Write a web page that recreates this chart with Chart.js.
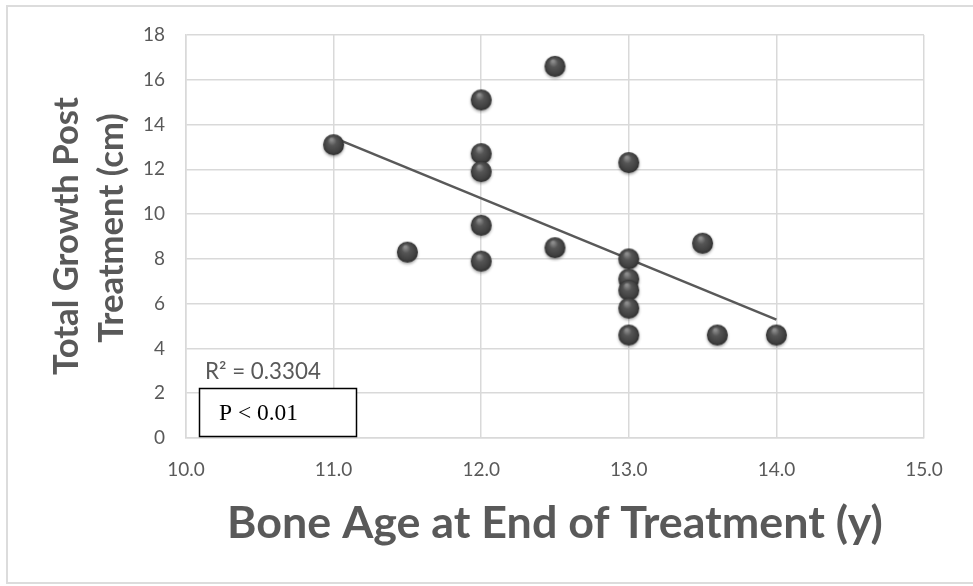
<!DOCTYPE html>
<html>
<head>
<meta charset="utf-8">
<script src="https://cdn.jsdelivr.net/npm/chart.js@4.4.1/dist/chart.umd.min.js"></script>
<style>
  html, body { margin: 0; padding: 0; background: #ffffff; }
</style>
</head>
<body>
<canvas id="chart" width="973" height="586"></canvas>
<script>
// bone age (y) vs total growth after treatment (cm)
const boneAge = [11.0, 11.5, 12.0, 12.0, 12.0, 12.0, 12.0, 12.5, 12.5, 13.0, 13.0, 13.0, 13.0, 13.0, 13.0, 13.5, 13.6, 14.0];
const growth  = [13.1, 8.3, 15.1, 12.7, 11.9, 9.5, 7.9, 16.6, 8.5, 12.3, 8.0, 7.1, 6.6, 5.8, 4.6, 8.7, 4.6, 4.6];

// linear trendline ends
const trendX = [11.0, 14.0];
const trendY = [13.42, 5.29];

const xTicks = [10, 11, 12, 13, 14, 15];
const yTicks = [0, 2, 4, 6, 8, 10, 12, 14, 16, 18];

const xTitle = 'Bone Age at End of Treatment (y)';
const yTitle = ['Total Growth Post', 'Treatment (cm)'];
const rSquaredText = 'R² = 0.3304';
const pValueText = 'P < 0.01';

const GREY = '#595959';
const GRID = '#d9d9d9';
const SANS = 'Lato, "Open Sans", sans-serif';

// shaded ball marker
function makeBall(r) {
  const size = Math.ceil(r * 2 + 8);
  const cv = document.createElement('canvas');
  cv.width = size; cv.height = size;
  const g = cv.getContext('2d');
  const c = size / 2;
  g.shadowColor = 'rgba(0,0,0,0.35)';
  g.shadowBlur = 3;
  g.shadowOffsetY = 1.5;
  const grad = g.createRadialGradient(c - r * 0.2, c - r * 0.5, r * 0.1, c, c, r);
  grad.addColorStop(0, '#8c8c8c');
  grad.addColorStop(0.35, '#555555');
  grad.addColorStop(0.8, '#404040');
  grad.addColorStop(1, '#2f2f2f');
  g.fillStyle = grad;
  g.beginPath();
  g.arc(c, c, r, 0, Math.PI * 2);
  g.fill();
  return cv;
}
const ball = makeBall(10.5);

// font size that makes text span the given width
function fitFont(ctx, text, weight, family, width) {
  ctx.font = `${weight} 40px ${family}`;
  return 40 * width / ctx.measureText(text).width;
}

// outer frame, axis titles and the stats annotations
const decorations = {
  id: 'decorations',
  beforeDraw(chart) {
    const ctx = chart.ctx;
    ctx.save();
    ctx.strokeStyle = '#dcdcdc';
    ctx.lineWidth = 2;
    ctx.strokeRect(7, 6, 980, 577);
    ctx.restore();
  },
  afterDraw(chart) {
    const ctx = chart.ctx;
    ctx.save();
    ctx.fillStyle = GREY;
    ctx.textAlign = 'center';
    ctx.textBaseline = 'middle';

    let fs = fitFont(ctx, xTitle, 'bold', SANS, 656);
    ctx.font = `bold ${fs}px ${SANS}`;
    ctx.fillText(xTitle, 555, 524);

    fs = fitFont(ctx, yTitle[0], 'bold', SANS, 278);
    ctx.font = `bold ${fs}px ${SANS}`;
    ctx.save();
    ctx.translate(67, 236);
    ctx.rotate(-Math.PI / 2);
    ctx.fillText(yTitle[0], 0, 0);
    ctx.restore();
    ctx.save();
    ctx.translate(112, 228);
    ctx.rotate(-Math.PI / 2);
    ctx.fillText(yTitle[1], 0, 0);
    ctx.restore();

    ctx.textAlign = 'left';
    fs = fitFont(ctx, rSquaredText, 'normal', SANS, 116);
    ctx.font = `${fs}px ${SANS}`;
    ctx.fillText(rSquaredText, 205, 372);

    ctx.fillStyle = '#ffffff';
    ctx.fillRect(199, 388, 158, 49);
    ctx.strokeStyle = '#000000';
    ctx.lineWidth = 1.5;
    ctx.strokeRect(199.5, 388.5, 157, 48);
    ctx.fillStyle = '#000000';
    const serif = '"Liberation Serif", "Times New Roman", serif';
    fs = fitFont(ctx, pValueText, 'normal', serif, 79);
    ctx.font = `${fs}px ${serif}`;
    ctx.fillText(pValueText, 219, 414);
    ctx.restore();
  }
};

new Chart(document.getElementById('chart'), {
  type: 'scatter',
  data: {
    datasets: [
      {
        type: 'line',
        data: trendX.map((x, i) => ({ x, y: trendY[i] })),
        borderColor: GREY,
        borderWidth: 2.5,
        pointRadius: 0,
        fill: false,
        order: 2
      },
      {
        data: boneAge.map((x, i) => ({ x, y: growth[i] })),
        pointStyle: ball,
        order: 1
      }
    ]
  },
  options: {
    responsive: false,
    animation: false,
    events: [],
    layout: { padding: { left: 0, top: 35, right: 49, bottom: 0 } },
    plugins: { legend: { display: false }, tooltip: { enabled: false } },
    scales: {
      x: {
        type: 'linear',
        min: xTicks[0],
        max: xTicks[xTicks.length - 1],
        afterBuildTicks: s => { s.ticks = xTicks.map(v => ({ value: v })); },
        afterFit: s => { s.height = 148; },
        grid: { color: GRID, lineWidth: 1.5, drawTicks: false },
        border: { color: GRID, width: 1.5 },
        ticks: {
          padding: 20,
          color: GREY,
          font: { family: SANS, size: 19 },
          callback: v => Number(v).toFixed(1)
        }
      },
      y: {
        min: yTicks[0],
        max: yTicks[yTicks.length - 1],
        afterBuildTicks: s => { s.ticks = yTicks.map(v => ({ value: v })); },
        afterFit: s => { s.width = 186; },
        grid: { color: GRID, lineWidth: 1.5, drawTicks: false },
        border: { color: GRID, width: 1.5 },
        ticks: {
          padding: 21,
          color: GREY,
          font: { family: SANS, size: 19 }
        }
      }
    }
  },
  plugins: [decorations]
});
</script>
</body>
</html>
